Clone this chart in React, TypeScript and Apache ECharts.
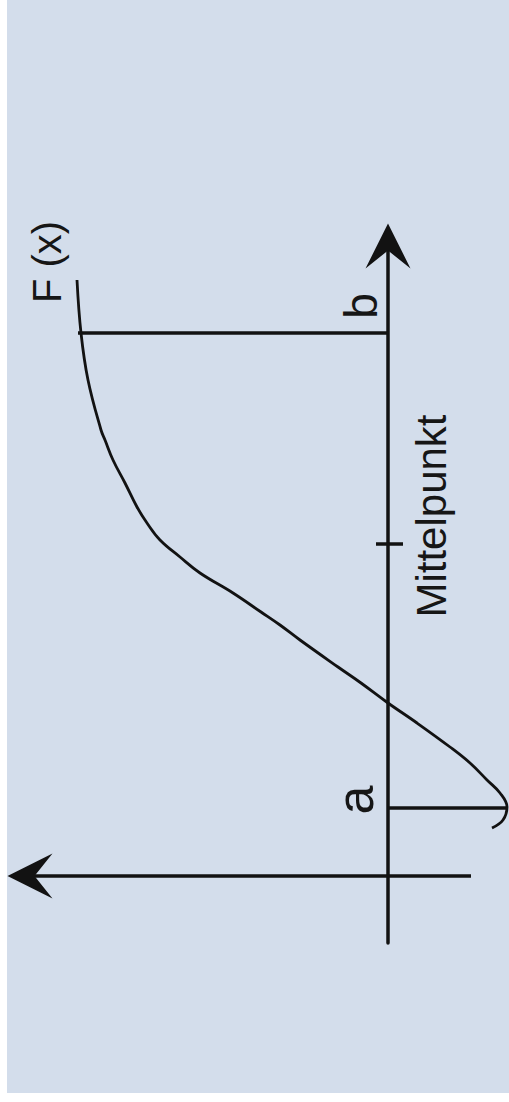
import React, { useEffect, useRef } from 'react';
import * as echarts from 'echarts';

// Curve F(x): position along the (vertical) x axis and value of F
const curveX = [48, 56, 69, 83, 96, 113, 129, 153, 173, 193, 209, 236, 251, 264, 283, 303, 319, 336, 353, 369, 393, 416, 436, 446, 496, 543, 596];
const curveF = [-104, -115, -119, -112, -99, -82, -62, -29, 0, 27, 50, 88, 108, 127, 155, 188, 208, 228, 241, 251, 263, 275, 283, 287, 300, 307, 311];

// Interval limits a and b
const markerNames = ['a', 'b'];
const markerX = [68, 543];
const markerF = [-118, 310];

// Midpoint tick
const midName = 'Mittelpunkt';
const midX = 332;
const midTickF = [12, -15];

// Axis extents
const xAxisRange = [-67, 630];
const fAxisRange = [-83, 358];
const fViewMin = -121;
const curveName = 'F (x)';

const INK = '#121212';
const BG = '#d3ddeb';
const ARROW = 'path://M22.5,0 L45,45 L22.5,27 L0,45 Z';

export default function App() {
  const ref = useRef<HTMLDivElement>(null);

  useEffect(() => {
    if (!ref.current) return;
    const chart = echarts.init(ref.current, null, { renderer: 'svg' });

    const segment = (pts: any[], width: number) => ({
      type: 'line',
      data: pts,
      showSymbol: true,
      symbol: 'none',
      clip: false,
      silent: true,
      itemStyle: { color: INK },
      lineStyle: { color: INK, width, cap: 'butt' },
      z: 3,
    });

    const series: any[] = [
      {
        type: 'line',
        name: curveName,
        data: curveF.map((f, i) => [f, curveX[i]]),
        showSymbol: false,
        symbol: 'none',
        smooth: 0.4,
        clip: false,
        silent: true,
        lineStyle: { color: INK, width: 2.8 },
        z: 4,
      },
      // horizontal (F) axis with arrow head
      segment(
        [
          [fAxisRange[0], 0],
          { value: [fAxisRange[1], 0], symbol: ARROW, symbolSize: [45, 45], symbolRotate: 90 },
        ],
        3.5
      ),
      segment([[0, markerX[0]], [markerF[0], markerX[0]]], 3.5),
      segment([[0, markerX[1]], [markerF[1], markerX[1]]], 3.5),
      segment([[midTickF[0], midX], [midTickF[1], midX]], 3.5),
    ];

    const axisCommon = {
      type: 'value',
      axisTick: { show: false },
      axisLabel: { show: false },
      splitLine: { show: false },
    };

    chart.setOption({
      animation: false,
      backgroundColor: 'transparent',
      grid: { left: 30, right: 0, top: 246, bottom: 159, containLabel: false },
      xAxis: {
        ...axisCommon,
        inverse: true,
        min: fViewMin,
        max: fAxisRange[1],
        axisLine: { show: false },
      },
      yAxis: {
        ...axisCommon,
        min: xAxisRange[0],
        max: xAxisRange[1],
        axisLine: {
          show: true,
          onZero: true,
          symbol: ['none', ARROW],
          symbolSize: [45, 45],
          lineStyle: { color: INK, width: 3.5 },
        },
      },
      series,
    });

    const px = (f: number, x: number) => chart.convertToPixel({ gridIndex: 0 }, [f, x]) as number[];
    const font = (size: number) => `${size}px "Liberation Sans", Arial, Helvetica, sans-serif`;
    const label = (text: string, p: number[], dx: number, dy: number, size: number) => ({
      type: 'text',
      x: p[0] + dx,
      y: p[1] + dy,
      rotation: Math.PI / 2,
      silent: true,
      z: 10,
      style: { text, font: font(size), fill: '#161616', align: 'center', verticalAlign: 'middle' },
    });

    const aP = px(0, markerX[0]);
    const bP = px(0, markerX[1]);
    const mP = px(0, midX);
    const endP = px(curveF[curveF.length - 1], curveX[curveX.length - 1]);

    chart.setOption({
      graphic: [
        label(markerNames[0], aP, -33, -8, 52),
        label(markerNames[1], bP, -27, -27, 46),
        label(midName, mP, 43, -28, 42),
        label(curveName, endP, -30, -18, 40),
      ],
    });

    return () => chart.dispose();
  }, []);

  return (
    <div style={{ position: 'absolute', left: 0, top: 0, width: 509, height: 1102 }}>
      <div style={{ position: 'absolute', left: 7, top: 0, width: 502, height: 1093, background: BG }} />
      <div ref={ref} style={{ position: 'absolute', left: 0, top: 0, width: 509, height: 1102 }} />
    </div>
  );
}
